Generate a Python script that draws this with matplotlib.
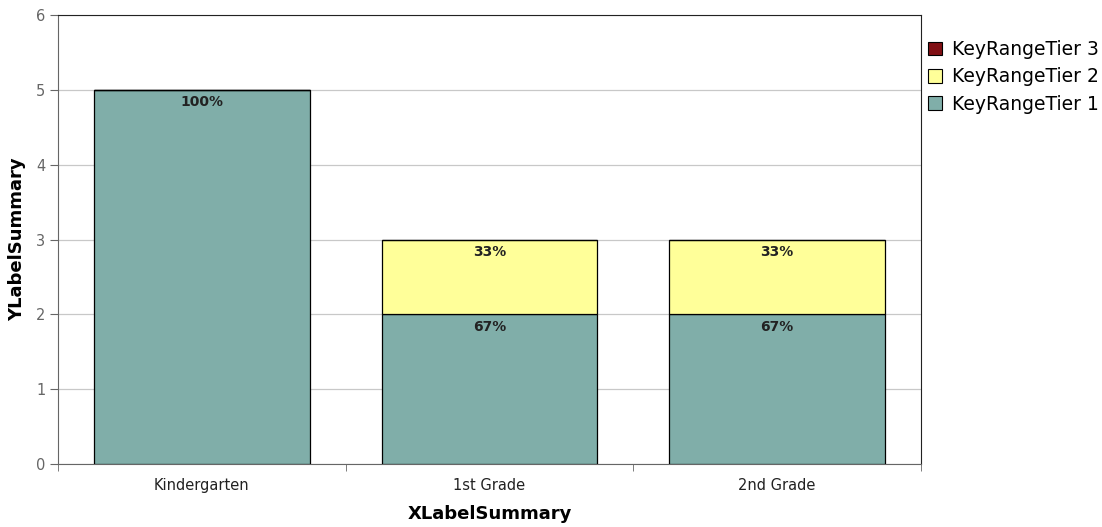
import numpy as np
import matplotlib.pyplot as plt
from matplotlib.patches import Patch

plt.rcParams['font.family'] = ['DejaVu Sans']

# data
grades = ["Kindergarten", "1st Grade", "2nd Grade"]
tier1 = [5, 2, 2]
tier2 = [0, 1, 1]
tier3 = [0, 0, 0]
series_names = ["KeyRangeTier 1", "KeyRangeTier 2", "KeyRangeTier 3"]
colors = ["#80aea9", "#ffff99", "#800f14"]

fig = plt.figure(figsize=(11.02, 5.27), dpi=100)
ax = fig.add_axes([58/1102, 63/527, (921-58)/1102, (464-15)/527])

x = np.arange(len(grades))
totals = np.array(tier1) + np.array(tier2) + np.array(tier3)
bottom = np.zeros(len(grades))
for vals, col in zip([tier1, tier2, tier3], colors):
    vals = np.array(vals, dtype=float)
    ax.bar(x, vals, width=0.75, bottom=bottom, color=col, edgecolor="black",
           linewidth=0.9, zorder=3)
    for xi, v, b, t in zip(x, vals, bottom, totals):
        if v > 0:
            ax.annotate("%d%%" % round(100 * v / t), (xi, b + v), xytext=(0, -9),
                        textcoords="offset points", ha="center", va="center",
                        fontsize=10, fontweight="bold", color="#222222", zorder=4)
    bottom += vals

ax.set_xlim(-0.5, 2.5)
ax.set_ylim(0, 6)
ax.set_yticks(range(7))
ax.yaxis.grid(True, color="#c8c8c8", linewidth=0.9, zorder=0)
ax.set_xticks(x)
ax.set_xticklabels(grades, fontsize=10.5, color="#222222")
ax.set_xticks([-0.5, 0.5, 1.5, 2.5], minor=True)
ax.tick_params(axis="x", which="major", length=0, pad=10)
ax.tick_params(axis="x", which="minor", length=5, color="#666666", direction="out")
ax.tick_params(axis="y", length=6, color="#666666", labelcolor="#666666",
               labelsize=10.5, pad=3)

for s in ["left", "bottom"]:
    ax.spines[s].set_color("#666666")
for s in ["top", "right"]:
    ax.spines[s].set_color("#222222")

ax.set_ylabel("YLabelSummary", fontsize=13, fontweight="bold", labelpad=7)
ax.set_xlabel("XLabelSummary", fontsize=13, fontweight="bold", labelpad=9)

handles = [Patch(facecolor=colors[i], edgecolor="black", linewidth=0.8,
                 label=series_names[i]) for i in [2, 1, 0]]
fig.legend(handles=handles, loc="upper left", bbox_to_anchor=(928/1102, 1 - 40/527),
           frameon=False, fontsize=13.5, handlelength=0.75, handleheight=0.75,
           handletextpad=0.55, labelspacing=0.45, borderaxespad=0, borderpad=0)

fig.savefig("out.png", dpi=100)
